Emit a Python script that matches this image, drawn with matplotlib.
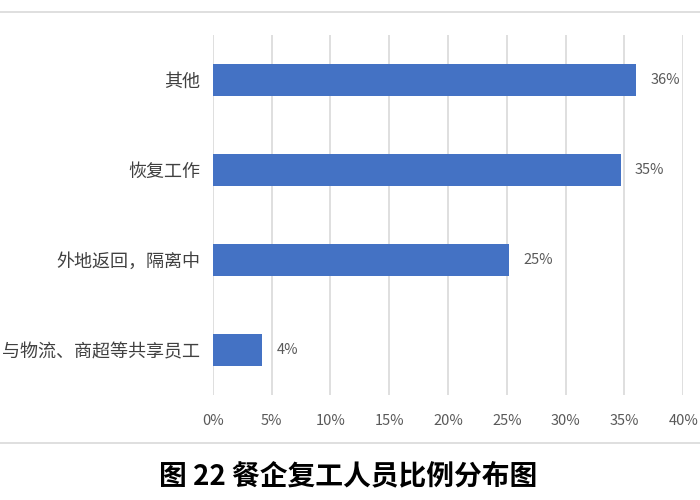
import matplotlib
matplotlib.use('Agg')
import numpy as np
from matplotlib import pyplot as plt
from matplotlib.lines import Line2D

plt.rcParams['font.family'] = ['Noto Sans CJK SC', 'DejaVu Sans']

# the first character of the last label is cut off in the source picture
categories = ['其他', '恢复工作', '外地返回，隔离中', '与物流、商超等共享员工']
values = [0.36, 0.347, 0.252, 0.042]
xticks = [0, 0.05, 0.10, 0.15, 0.20, 0.25, 0.30, 0.35, 0.40]
title = '图 22 餐企复工人员比例分布图'

fig = plt.figure(figsize=(7, 5), dpi=100)
ax = fig.add_axes([0.304, 0.21, 0.672, 0.72])

y = np.arange(len(categories))
ax.barh(y, values, height=0.355, color='#4472c4')
ax.set_ylim(len(categories) - 0.5, -0.5)
ax.set_xlim(0, 0.40)

for yi, v in zip(y, values):
    ax.text(v + 0.012, yi, '%.0f%%' % (v * 100), va='center', ha='left',
            fontsize=10.5, color='#595959')

ax.set_yticks(y)
ax.set_yticklabels(categories, fontsize=13, color='#404040')
ax.set_xticks(xticks)
ax.set_xticklabels(['%d%%' % round(t * 100) for t in xticks], fontsize=10.5, color='#595959')
ax.tick_params(axis='both', length=0)
ax.tick_params(axis='y', pad=9)
ax.tick_params(axis='x', pad=14)

ax.grid(axis='x', color='#d9d9d9', linewidth=1.2)
ax.set_axisbelow(True)
for s in ax.spines.values():
    s.set_visible(False)

# light frame lines above and below the chart
fig.add_artist(Line2D([0, 1], [1 - 12 / 500, 1 - 12 / 500], color='#d9d9d9', linewidth=1.2))
fig.add_artist(Line2D([0, 1], [1 - 443 / 500, 1 - 443 / 500], color='#d9d9d9', linewidth=1.2))

fig.text(0.497, 1 - 476 / 500, title, ha='center', va='center', fontsize=20,
         fontweight='bold', color='black')

fig.savefig('out.png', dpi=100)
